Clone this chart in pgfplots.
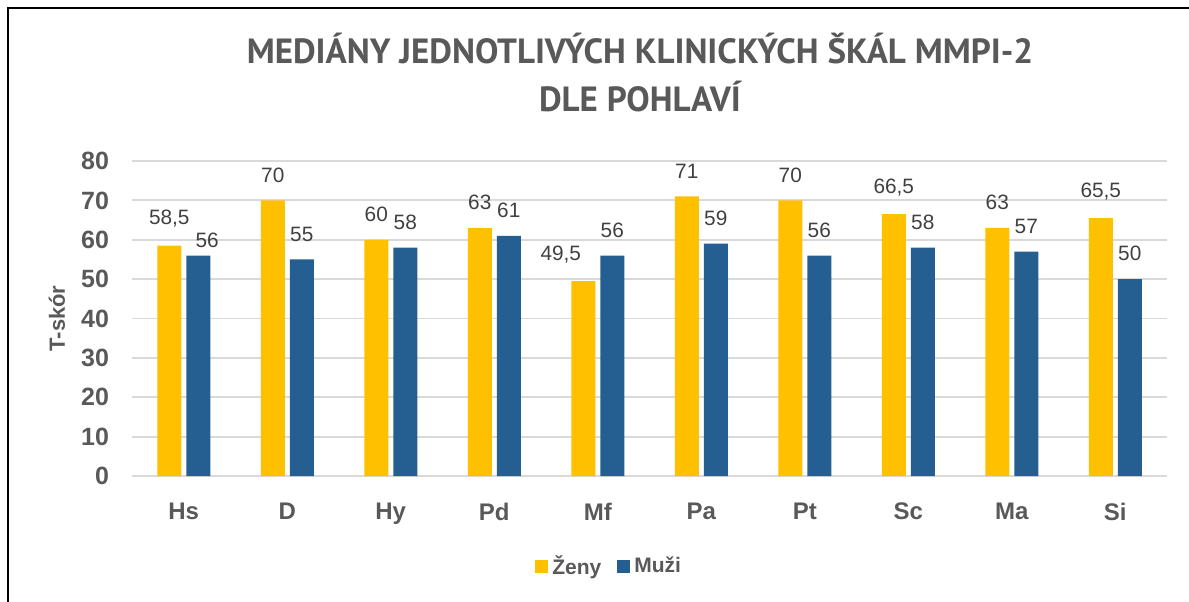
\documentclass[border=0pt]{standalone}
\usepackage{pgfplots}
\pgfplotsset{compat=1.18}
\usepackage{pgfplotstable}
\usepackage{fontspec}
\setmainfont{Liberation Sans}
\newfontfamily\titlefont{PT Sans}
\definecolor{zlut}{HTML}{FFC000}
\definecolor{modra}{HTML}{255E91}
\definecolor{txt}{HTML}{595959}
\definecolor{lbl}{HTML}{404040}
\definecolor{mrizka}{HTML}{D9D9D9}

% dx, dy: manual shifts of the data labels (pt)
\pgfplotstableread{
x zeny zdx zdy muzi mdx mdy
0 58.5 0      0 56 4.5 -5
1 70   0      0 55 0    0
2 60   0      0 58 0    0
3 63   0      0 61 0    0
4 49.5 -11.25 0 56 0    0
5 71   0      0 59 0    0
6 70   0      0 56 0    0
7 66.5 0      0 58 0    0
8 63   0      0 57 0    0
9 65.5 0      0 50 0    0
}\data

\begin{document}
\begin{tikzpicture}
 % 1 px of the reference = 0.5pt, origin at the top left corner
 \begin{axis}[at={(66pt,-238pt)},anchor=south west,
  scale only axis,width=517.5pt,height=157.5pt,
  ybar=2.5pt,bar width=12pt,
  xmin=-0.5,xmax=9.5,ymin=0,ymax=80,ytick={0,10,...,80},
  xtick=data,xticklabels={Hs,D,Hy,Pd,Mf,Pa,Pt,Sc,Ma,Si},
  axis line style={draw=none},major tick length=0pt,
  ymajorgrids,grid style={mrizka,line width=0.9pt},
  /pgf/number format/assume math mode=true,
  /pgf/number format/use comma,
  yticklabel style={font=\fontsize{12.5}{14}\selectfont\bfseries,text=txt,xshift=-8pt},
  xticklabel style={font=\fontsize{12}{14}\selectfont\bfseries,text=txt,yshift=-10pt},
  ylabel={T-skór},
  ylabel style={at={(axis description cs:-0.0725,0.5)},anchor=center,
   font=\fontsize{11}{13}\selectfont\bfseries,text=txt},
  nodes near coords,
  every node near coord/.append style={font=\fontsize{10.4}{12}\selectfont,text=lbl,
   xshift=\dx pt,yshift=\dy pt+5.5pt},
  legend style={at={(axis description cs:0.462,-0.286)},anchor=center,draw=none,
   legend columns=2,font=\fontsize{10.5}{12}\selectfont\bfseries,text=txt,
   /tikz/every even column/.append style={column sep=6pt}},
  legend image code/.code={\fill[#1] (0pt,-3.25pt) rectangle (6.5pt,3.25pt);},
  clip=false]
  \addplot[fill=zlut,draw=none,
   visualization depends on={\thisrow{zdx}\as\dx},
   visualization depends on={\thisrow{zdy}\as\dy}] table[x=x,y=zeny] {\data};
  \addplot[fill=modra,draw=none,
   visualization depends on={\thisrow{mdx}\as\dx},
   visualization depends on={\thisrow{mdy}\as\dy}] table[x=x,y=muzi] {\data};
  \legend{Ženy,Muži}
 \end{axis}
 \node[align=center,text=txt,font=\titlefont\fontsize{17.5}{24}\selectfont\bfseries]
  at (320pt,-36.5pt) {MEDIÁNY JEDNOTLIVÝCH KLINICKÝCH ŠKÁL MMPI-2\\DLE POHLAVÍ};
 \draw[line width=1.3pt] (4pt,-310pt) -- (4pt,-4pt) -- (600pt,-4pt);
 \pgfresetboundingbox
 \useasboundingbox (0,0) rectangle (594.5pt,-300.5pt);
\end{tikzpicture}
\end{document}
